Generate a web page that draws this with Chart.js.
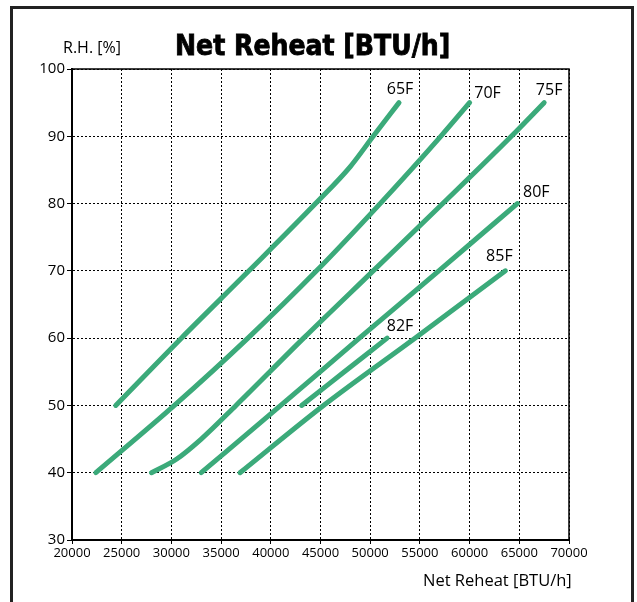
<!DOCTYPE html>
<html>
<head>
<meta charset="utf-8">
<script src="https://cdn.jsdelivr.net/npm/chart.js@4.4.0/dist/chart.umd.min.js"></script>
<style>
  html, body { margin: 0; padding: 0; background: #fff; }
  #wrap { position: relative; width: 637px; height: 602px; overflow: hidden; }
  #frame { position: absolute; left: 10px; top: 6px; width: 618px; height: 640px; border: 3px solid #222; }
  #myChart { position: absolute; left: 0; top: 0; }
  .txt { position: absolute; color: #000; white-space: nowrap; line-height: 1; }
  #title { left: 175px; top: 32px; font-family: "DejaVu Sans Condensed", "DejaVu Sans", sans-serif; font-weight: bold; font-size: 28px; -webkit-text-stroke: 0.8px #000; }
  #ylab { left: 63px; top: 39px; font-family: "Open Sans", sans-serif; font-size: 16px; }
  #xlab { left: 423px; top: 572px; font-family: "Open Sans", sans-serif; font-size: 16.5px; }
</style>
</head>
<body>
<div id="wrap">
  <div id="frame"></div>
  <canvas id="myChart" width="637" height="602"></canvas>
  <div class="txt" id="title">Net Reheat [BTU/h]</div>
  <div class="txt" id="ylab">R.H. [%]</div>
  <div class="txt" id="xlab">Net Reheat [BTU/h]</div>
</div>
<script>
const seriesNames = ['65F', '70F', '75F', '80F', '85F', '82F'];

const reheat65 = [24400, 31000, 37800, 44500, 48000, 50300, 52900];
const rh65     = [50, 60, 70, 80, 85.5, 90, 95];

const reheat70 = [22400, 30300, 37700, 44600, 51000, 57100, 60000];
const rh70     = [40, 50, 60, 70, 80, 90, 95];

const reheat75 = [28000, 30500, 33000, 36500, 43300, 50300, 57300, 64200, 67500];
const rh75     = [40, 42, 45, 50, 60, 70, 80, 90, 95];

const reheat80 = [33000, 41000, 49000, 56900, 64800];
const rh80     = [40, 50, 60.1, 70, 80];

const reheat85 = [36900, 45300, 54500, 63600];
const rh85     = [40, 50, 60, 70];

const reheat82 = [43100, 47400, 51700];
const rh82     = [50, 55, 60];

const xTicks = [20000, 25000, 30000, 35000, 40000, 45000, 50000, 55000, 60000, 65000, 70000];
const yTicks = [30, 40, 50, 60, 70, 80, 90, 100];

// label offsets from the end of each curve (px)
const labelOffsets = [[1, -13], [18, -9], [5, -12], [19, -11], [-6, -14], [13, -12]];

const xs = [reheat65, reheat70, reheat75, reheat80, reheat85, reheat82];
const ys = [rh65, rh70, rh75, rh80, rh85, rh82];

const green = 'rgb(59, 170, 122)';

const datasets = seriesNames.map((name, i) => ({
    label: name,
    data: xs[i].map((x, j) => ({x: x, y: ys[i][j]})),
    borderColor: green,
    borderWidth: 5,
    borderCapStyle: 'round',
    borderJoinStyle: 'round',
    pointRadius: 0,
    cubicInterpolationMode: 'monotone',
    fill: false
}));

const curveLabels = {
    id: 'curveLabels',
    afterDatasetsDraw(chart) {
        const ctx = chart.ctx;
        ctx.save();
        ctx.font = '16px "Open Sans", sans-serif';
        ctx.fillStyle = '#000';
        ctx.textAlign = 'center';
        ctx.textBaseline = 'middle';
        chart.data.datasets.forEach((ds, i) => {
            const pts = chart.getDatasetMeta(i).data;
            const last = pts[pts.length - 1];
            ctx.fillText(ds.label, last.x + labelOffsets[i][0], last.y + labelOffsets[i][1]);
        });
        ctx.restore();
    }
};

const frameLines = {
    id: 'frameLines',
    afterDraw(chart) {
        const {ctx, chartArea} = chart;
        ctx.save();
        ctx.strokeStyle = '#000';
        ctx.lineWidth = 1.5;
        ctx.beginPath();
        ctx.moveTo(chartArea.left, chartArea.top);
        ctx.lineTo(chartArea.right, chartArea.top);
        ctx.lineTo(chartArea.right, chartArea.bottom);
        ctx.stroke();
        ctx.restore();
    }
};

const ctx = document.getElementById('myChart');
new Chart(ctx, {
    type: 'line',
    data: { datasets: datasets },
    options: {
        responsive: false,
        animation: false,
        layout: { padding: { left: 0, top: 69, right: 68, bottom: 0 } },
        plugins: {
            legend: { display: false },
            tooltip: { enabled: false }
        },
        scales: {
            x: {
                type: 'linear',
                min: 20000,
                max: 70000,
                afterBuildTicks: (scale) => { scale.ticks = xTicks.map(v => ({value: v})); },
                afterFit: (scale) => { scale.height = 62; },
                ticks: {
                    callback: (v) => String(v),
                    color: '#000',
                    font: { family: 'Open Sans', size: 13 },
                    padding: 1,
                    maxRotation: 0,
                    autoSkip: false
                },
                grid: { color: '#000', lineWidth: 1, tickLength: 4 },
                border: { display: true, color: '#000', width: 2, dash: [2, 2] }
            },
            y: {
                type: 'linear',
                min: 30,
                max: 100,
                afterBuildTicks: (scale) => { scale.ticks = yTicks.map(v => ({value: v})); },
                afterFit: (scale) => { scale.width = 72; },
                ticks: {
                    color: '#000',
                    font: { family: 'Open Sans', size: 15 },
                    padding: 2
                },
                grid: { color: '#000', lineWidth: 1, tickLength: 5 },
                border: { display: true, color: '#000', width: 2, dash: [2, 2] }
            }
        }
    },
    plugins: [curveLabels, frameLines]
});
</script>
</body>
</html>
